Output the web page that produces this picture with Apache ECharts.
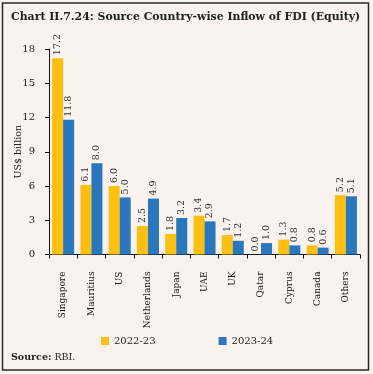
<!DOCTYPE html>
<html>
<head>
<meta charset="utf-8">
<script src="https://cdn.jsdelivr.net/npm/echarts@6/dist/echarts.min.js"></script>
<style>
html,body{margin:0;padding:0;background:#f9f2ee;}
#c{width:373px;height:374px;}
</style>
</head>
<body>
<div id="c"></div>
<script>
const categories = ['Singapore','Mauritius','US','Netherlands','Japan','UAE','UK','Qatar','Cyprus','Canada','Others'];
const fy2223 = [17.2, 6.1, 6.0, 2.5, 1.8, 3.4, 1.7, 0.0, 1.3, 0.8, 5.2];
const fy2324 = [11.8, 8.0, 5.0, 4.9, 3.2, 2.9, 1.2, 1.0, 0.8, 0.6, 5.1];
const seriesNames = ['2022-23','2023-24'];
const yTicks = [0, 3, 6, 9, 12, 15, 18];

const FONT = 'DejaVu Serif';
const chart = echarts.init(document.getElementById('c'), null, {renderer:'canvas'});
const labelCfg = {
  show: true, position: 'top', rotate: 90, align: 'left', verticalAlign: 'middle',
  distance: 3, fontFamily: FONT, fontSize: 9.5, color: '#333',
  formatter: p => p.value.toFixed(1)
};
chart.setOption({
  backgroundColor: '#f9f2ee',
  animation: false,
  title: {
    text: 'Chart II.7.24: Source Country-wise Inflow of FDI (Equity)',
    left: 11, top: 12, padding: 0,
    textStyle: {fontFamily: FONT, fontWeight: 'bold', fontSize: 10.9, color: '#222'}
  },
  legend: {
    data: seriesNames, left: 101, top: 336, padding: 0, icon: 'rect', itemWidth: 8, itemHeight: 8,
    itemGap: 63,
    textStyle: {fontFamily: FONT, fontSize: 10, color: '#222'}
  },
  grid: {left: 49, right: 13, top: 49, bottom: 119.5},
  xAxis: {
    type: 'category', data: categories,
    axisLine: {lineStyle: {color: '#111', width: 1}},
    axisTick: {show: true, length: 4, lineStyle: {color: '#111'}},
    axisLabel: {rotate: 90, margin: 17, fontFamily: FONT, fontSize: 9, color: '#222', interval: 0}
  },
  yAxis: {
    type: 'value', min: yTicks[0], max: yTicks[yTicks.length-1], interval: 3,
    name: 'US$ billion', nameLocation: 'middle', nameGap: 25, nameMoveOverlap: false,
    nameTextStyle: {fontFamily: FONT, fontSize: 9.5, color: '#222'},
    axisLine: {show: true, lineStyle: {color: '#111', width: 1}},
    axisTick: {show: true, length: 4, lineStyle: {color: '#111'}},
    splitLine: {show: false},
    axisLabel: {margin: 14, fontFamily: FONT, fontSize: 10, color: '#222'}
  },
  series: [
    {name: seriesNames[0], type: 'bar', data: fy2223, barGap: '0%', barCategoryGap: '22%',
     itemStyle: {color: '#fdc010'}, label: labelCfg},
    {name: seriesNames[1], type: 'bar', data: fy2324, barGap: '0%', barCategoryGap: '22%',
     itemStyle: {color: '#2a77bb'}, label: labelCfg}
  ],
  graphic: [
    {type: 'rect', shape: {x: 2.5, y: 3, width: 366, height: 367}, silent: true,
     style: {fill: null, stroke: '#2a2a2a', lineWidth: 1.5}},
    {type: 'text', left: 11, top: 353, silent: true,
     style: {text: '{b|Source:} RBI.', fontFamily: FONT, fontSize: 9.5, fill: '#222',
       rich: {b: {fontWeight: 'bold', fontFamily: FONT, fontSize: 9.5, fill: '#222'}}}}
  ]
});
</script>
</body>
</html>
